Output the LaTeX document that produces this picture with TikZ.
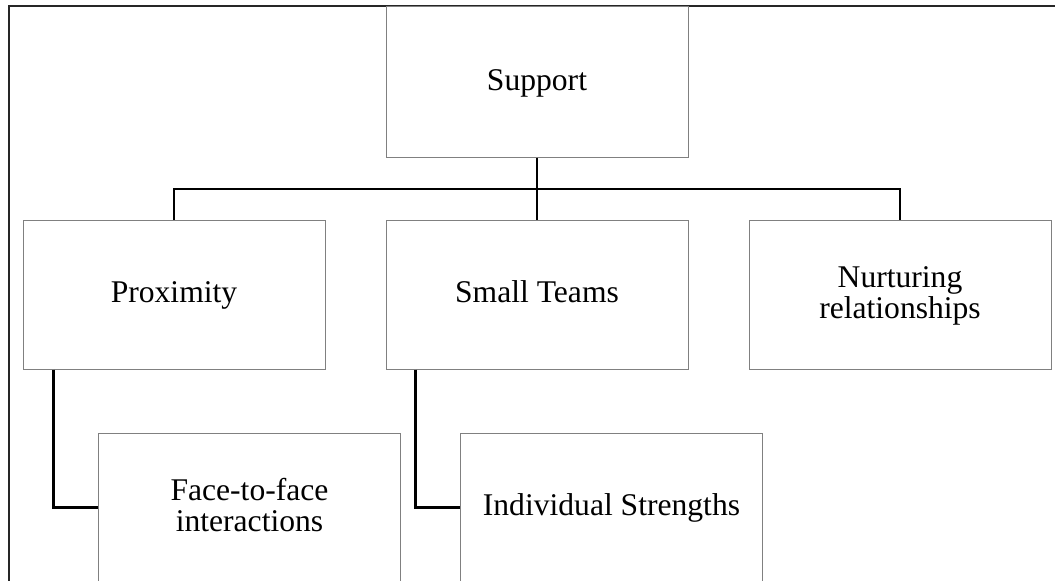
\documentclass[tikz,border=0pt]{standalone}
\usepackage{fontspec}
\setmainfont{Liberation Serif}
% line strut so that every line sits at the same height in its box
\newcommand{\lnstrut}{\rule[-6.6pt]{0pt}{30pt}}
\begin{document}
\begin{tikzpicture}[x=1pt,y=-1pt,
  box/.style={draw=black!50,line width=1pt,rectangle,inner sep=0pt,
    minimum width=302pt,minimum height=149pt,align=center,
    font=\fontsize{31.6}{30.5}\selectfont},
  link/.style={draw=black,line width=2.2pt},
  frame/.style={draw=black!85,line width=2pt}]
\useasboundingbox (0,0) rectangle (1055,581);
\clip (0,0) rectangle (1055,581);
\fill[white] (0,0) rectangle (1055,581);

% outer frame (only top and left edges fall inside the page)
\draw[frame] (8.5,600) -- (8.5,6) -- (1070,6);

% top level
\node[box,minimum height=150.5pt] (sup) at (537,81.75) {\lnstrut Support};

% second level
\node[box] (prox) at (174,294.5) {\lnstrut Proximity};
\node[box] (team) at (537,294.5) {\lnstrut Small Teams};
\node[box] (nurt) at (900,294.5) {\lnstrut Nurturing\\\lnstrut relationships};

% third level
\node[box] (face)  at (249.5,507.5) {\lnstrut Face-to-face\\\lnstrut interactions};
\node[box] (indiv) at (611.5,507.5) {\lnstrut Individual Strengths};

% connectors
\coordinate (bus) at (537,189);
\draw[link] (sup.south) -- (bus);
\draw[link] (prox.north) |- (bus) -| (nurt.north);
\draw[link] (bus) -- (team.north);
\draw[link] ([xshift=31pt]prox.south west) |- (face.west);
\draw[link] ([xshift=30pt]team.south west) |- (indiv.west);
\end{tikzpicture}
\end{document}
